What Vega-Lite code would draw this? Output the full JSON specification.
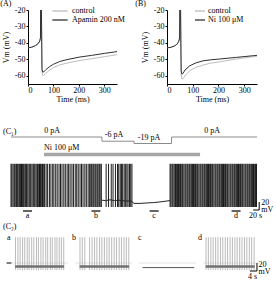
{
"$schema": "https://vega.github.io/schema/vega-lite/v6.json",
"padding": {"left": 0, "top": 0, "right": 0, "bottom": 0},
"background": "white",
"spacing": 24,
"config": {
  "view": {"stroke": null},
  "font": "Liberation Serif",
  "title": {"font": "Liberation Serif", "fontSize": 8, "fontWeight": "normal", "anchor": "start", "color": "black", "offset": 2},
  "axis": {"labelFont": "Liberation Serif", "titleFont": "Liberation Serif", "labelFontSize": 8, "titleFontSize": 8, "titleFontWeight": "normal", "labelColor": "black", "titleColor": "black", "domainColor": "black", "tickColor": "black", "tickSize": 2, "grid": false, "labelPadding": 1, "labelExpr": "replace(datum.label, '−', '-')"},
  "legend": {"labelFont": "Liberation Serif", "labelFontSize": 8, "labelColor": "black"},
  "text": {"font": "Liberation Serif", "fontSize": 8, "color": "black"}
},
"datasets": {
  "A": [
    {"t":0,"v":-43,"s":"control"},{"t":15,"v":-42.6,"s":"control"},{"t":30,"v":-41.6,"s":"control"},{"t":40,"v":-40.4,"s":"control"},{"t":46,"v":-39,"s":"control"},{"t":49,"v":-37,"s":"control"},{"t":51,"v":10,"s":"control"},{"t":55,"v":-57.5,"s":"control"},{"t":58,"v":-59.8,"s":"control"},{"t":62,"v":-59.8,"s":"control"},{"t":70,"v":-58.5,"s":"control"},{"t":85,"v":-56.6,"s":"control"},{"t":100,"v":-55,"s":"control"},{"t":125,"v":-53.4,"s":"control"},{"t":150,"v":-52.4,"s":"control"},{"t":200,"v":-50.8,"s":"control"},{"t":250,"v":-49.6,"s":"control"},{"t":300,"v":-48.4,"s":"control"},{"t":350,"v":-47.2,"s":"control"},
    {"t":0,"v":-43,"s":"Apamin 200 nM"},{"t":15,"v":-42.6,"s":"Apamin 200 nM"},{"t":30,"v":-41.6,"s":"Apamin 200 nM"},{"t":40,"v":-40.4,"s":"Apamin 200 nM"},{"t":46,"v":-39,"s":"Apamin 200 nM"},{"t":49,"v":-37,"s":"Apamin 200 nM"},{"t":51,"v":10,"s":"Apamin 200 nM"},{"t":55,"v":-56,"s":"Apamin 200 nM"},{"t":58,"v":-57.8,"s":"Apamin 200 nM"},{"t":62,"v":-57.6,"s":"Apamin 200 nM"},{"t":70,"v":-56.3,"s":"Apamin 200 nM"},{"t":85,"v":-54.4,"s":"Apamin 200 nM"},{"t":100,"v":-53,"s":"Apamin 200 nM"},{"t":125,"v":-51.3,"s":"Apamin 200 nM"},{"t":150,"v":-50.3,"s":"Apamin 200 nM"},{"t":200,"v":-48.7,"s":"Apamin 200 nM"},{"t":250,"v":-47.6,"s":"Apamin 200 nM"},{"t":300,"v":-46.4,"s":"Apamin 200 nM"},{"t":350,"v":-45.3,"s":"Apamin 200 nM"}
  ],
  "B": [
    {"t":0,"v":-43,"s":"control"},{"t":15,"v":-42.7,"s":"control"},{"t":30,"v":-41.8,"s":"control"},{"t":40,"v":-40.6,"s":"control"},{"t":46,"v":-39,"s":"control"},{"t":49,"v":-37,"s":"control"},{"t":51,"v":10,"s":"control"},{"t":55,"v":-59,"s":"control"},{"t":58,"v":-62,"s":"control"},{"t":62,"v":-61.8,"s":"control"},{"t":70,"v":-60,"s":"control"},{"t":88,"v":-57,"s":"control"},{"t":110,"v":-55,"s":"control"},{"t":140,"v":-53.5,"s":"control"},{"t":170,"v":-52.3,"s":"control"},{"t":205,"v":-51.5,"s":"control"},{"t":270,"v":-49.8,"s":"control"},{"t":335,"v":-48.4,"s":"control"},{"t":350,"v":-48.1,"s":"control"},
    {"t":0,"v":-43,"s":"Ni 100 μM"},{"t":15,"v":-42.7,"s":"Ni 100 μM"},{"t":30,"v":-41.8,"s":"Ni 100 μM"},{"t":40,"v":-40.6,"s":"Ni 100 μM"},{"t":46,"v":-39,"s":"Ni 100 μM"},{"t":49,"v":-37,"s":"Ni 100 μM"},{"t":51,"v":10,"s":"Ni 100 μM"},{"t":55,"v":-57,"s":"Ni 100 μM"},{"t":58,"v":-59,"s":"Ni 100 μM"},{"t":62,"v":-58.6,"s":"Ni 100 μM"},{"t":70,"v":-56.5,"s":"Ni 100 μM"},{"t":88,"v":-54,"s":"Ni 100 μM"},{"t":110,"v":-52.3,"s":"Ni 100 μM"},{"t":140,"v":-50.9,"s":"Ni 100 μM"},{"t":170,"v":-50.3,"s":"Ni 100 μM"},{"t":205,"v":-49.8,"s":"Ni 100 μM"},{"t":270,"v":-48.8,"s":"Ni 100 μM"},{"t":335,"v":-47.8,"s":"Ni 100 μM"},{"t":350,"v":-47.6,"s":"Ni 100 μM"}
  ],
  "cmd": [{"t":0,"I":0},{"t":303,"I":-6},{"t":410,"I":-19},{"t":535,"I":0},{"t":820,"I":0}],
  "cmdlab": [{"t":137,"I":0,"label":"0 pA"},{"t":343,"I":-6,"label":"-6 pA"},{"t":460,"I":-19,"label":"-19 pA"},{"t":670,"I":0,"label":"0 pA"}],
  "ni": [{"t0":110,"t1":630,"label":"Ni 100 μM"}],
  "c1spk": [
    {"t":0},{"t":3},{"t":7},{"t":11},{"t":14},{"t":18},{"t":21},{"t":24},{"t":28},{"t":32},{"t":35},{"t":38},{"t":42},{"t":46},{"t":49},{"t":52},{"t":56},{"t":60},{"t":63},{"t":66},{"t":70},{"t":74},{"t":77},{"t":80},{"t":84},{"t":88},{"t":91},{"t":95},{"t":98},{"t":101},{"t":105},{"t":109},{"t":112},
    {"t":117},{"t":122},{"t":128},{"t":133},{"t":139},{"t":143},{"t":149},{"t":154},{"t":160},{"t":165},{"t":170},{"t":176},{"t":181},{"t":187},{"t":192},{"t":197},{"t":203},{"t":208},{"t":214},{"t":219},{"t":224},{"t":230},{"t":235},{"t":240},{"t":246},{"t":251},{"t":257},{"t":262},
    {"t":266},{"t":269},{"t":273},{"t":276},{"t":280},{"t":283},{"t":287},{"t":290},{"t":294},{"t":297},{"t":301},
    {"t":317},{"t":325},{"t":334},{"t":340},{"t":348},
    {"t":355},{"t":359},{"t":364},{"t":368},{"t":372},{"t":377},{"t":381},{"t":386},{"t":390},{"t":395},{"t":399},{"t":403},
    {"t":530},{"t":533},{"t":537},{"t":540},{"t":544},{"t":548},{"t":551},{"t":555},{"t":558},{"t":562},{"t":565},{"t":569},{"t":572},{"t":576},{"t":580},{"t":583},{"t":587},{"t":590},{"t":594},{"t":597},{"t":601},{"t":605},{"t":608},{"t":612},{"t":615},{"t":619},{"t":622},{"t":626},{"t":630},{"t":633},{"t":637},{"t":640},{"t":644},{"t":647},{"t":651},{"t":655},{"t":658},{"t":662},{"t":665},{"t":669},{"t":672},{"t":676},{"t":680},{"t":683},{"t":687},{"t":690},{"t":694},{"t":697},{"t":701},{"t":705},{"t":708},{"t":712},{"t":715},{"t":719},{"t":722},{"t":726},{"t":730},{"t":733},{"t":737},{"t":740},{"t":744},{"t":747},{"t":751},{"t":755},{"t":758},{"t":762},{"t":765},{"t":769},{"t":772},{"t":776},{"t":780},{"t":783},{"t":787},{"t":790},{"t":794},{"t":797},{"t":801},{"t":805},{"t":808},{"t":812},{"t":815},{"t":818}
  ],
  "c1base": [{"t":303,"v":-58},{"t":315,"v":-59},{"t":330,"v":-57},{"t":345,"v":-59},{"t":360,"v":-58},{"t":380,"v":-60},{"t":400,"v":-60},{"t":410,"v":-66},{"t":430,"v":-66},{"t":450,"v":-65},{"t":475,"v":-64},{"t":500,"v":-62},{"t":520,"v":-60},{"t":530,"v":-59}],
  "seg": [{"label":"a","t0":40,"t1":70},{"label":"b","t0":268,"t1":298},{"label":"c","t0":462,"t1":492},{"label":"d","t0":735,"t1":765}],
  "c2spk": [
    {"seg":"a","t":0.5},{"seg":"a","t":1.9},{"seg":"a","t":3.1},{"seg":"a","t":4.5},{"seg":"a","t":5.7},{"seg":"a","t":7.1},{"seg":"a","t":8.2},{"seg":"a","t":9.6},{"seg":"a","t":10.8},{"seg":"a","t":12.3},{"seg":"a","t":13.4},{"seg":"a","t":14.8},{"seg":"a","t":16.0},{"seg":"a","t":17.5},{"seg":"a","t":18.6},{"seg":"a","t":20.1},{"seg":"a","t":21.2},{"seg":"a","t":22.7},{"seg":"a","t":23.8},{"seg":"a","t":25.1},{"seg":"a","t":26.3},{"seg":"a","t":27.6},
    {"seg":"b","t":0.8},{"seg":"b","t":2.1},{"seg":"b","t":3.5},{"seg":"b","t":6.2},{"seg":"b","t":7.6},{"seg":"b","t":9.0},{"seg":"b","t":10.3},{"seg":"b","t":11.8},{"seg":"b","t":13.1},{"seg":"b","t":14.5},{"seg":"b","t":15.9},{"seg":"b","t":17.2},{"seg":"b","t":18.6},{"seg":"b","t":20.0},{"seg":"b","t":21.3},{"seg":"b","t":22.8},{"seg":"b","t":24.1},{"seg":"b","t":25.5},{"seg":"b","t":26.8},{"seg":"b","t":28.2},
    {"seg":"d","t":-0.3},{"seg":"d","t":1.0},{"seg":"d","t":2.4},{"seg":"d","t":3.7},{"seg":"d","t":5.1},{"seg":"d","t":6.4},{"seg":"d","t":7.8},{"seg":"d","t":9.1},{"seg":"d","t":10.5},{"seg":"d","t":11.8},{"seg":"d","t":13.2},{"seg":"d","t":14.5},{"seg":"d","t":15.9},{"seg":"d","t":17.2},{"seg":"d","t":18.6},{"seg":"d","t":19.9},{"seg":"d","t":21.3},{"seg":"d","t":22.6},{"seg":"d","t":24.0},{"seg":"d","t":25.3},{"seg":"d","t":26.7}
  ],
  "c2base": [{"seg":"a","t0":0.3,"t1":27.8,"v":-61},{"seg":"b","t0":0.6,"t1":28.4,"v":-61},{"seg":"c","t0":0,"t1":29,"v":-64},{"seg":"d","t0":-0.5,"t1":27,"v":-61}]
},
"vconcat": [
  {"hconcat": [
    {"width": 17, "height": 74, "data": {"values": []}, "mark": "point"},
    {"width": 89, "height": 74,
     "title": {"text": "(A)", "frame": "bounds", "offset": -2, "dx": -2},
     "data": {"name": "A"},
     "mark": {"type": "line", "strokeWidth": 1, "clip": true},
     "encoding": {
       "x": {"field": "t", "type": "quantitative", "scale": {"domain": [0, 350], "nice": false}, "axis": {"values": [0,100,200,300], "title": "Time (ms)", "labelPadding": 0, "titlePadding": 1}},
       "y": {"field": "v", "type": "quantitative", "scale": {"domain": [-65, -20], "nice": false, "zero": false}, "axis": {"values": [-20,-30,-40,-50,-60], "title": "Vm (mV)", "titlePadding": 4}},
       "color": {"field": "s", "type": "nominal", "sort": null, "scale": {"domain": ["control", "Apamin 200 nM"], "range": ["#bdbdbd", "#303030"]},
                 "legend": {"orient": "none", "legendX": 27, "legendY": -4, "title": null, "symbolType": "M-1.9,0H1.9", "symbolSize": 64, "symbolStrokeWidth": 1.3, "rowPadding": -3, "labelOffset": 7}}
     }},
    {"width": 50, "height": 74, "data": {"values": []}, "mark": "point"},
    {"width": 90, "height": 74,
     "title": {"text": "(B)", "frame": "bounds", "offset": -2, "dx": -6},
     "data": {"name": "B"},
     "mark": {"type": "line", "strokeWidth": 1, "clip": true},
     "encoding": {
       "x": {"field": "t", "type": "quantitative", "scale": {"domain": [0, 350], "nice": false}, "axis": {"values": [0,100,200,300], "title": "Time (ms)", "labelPadding": 0, "titlePadding": 1}},
       "y": {"field": "v", "type": "quantitative", "scale": {"domain": [-65, -20], "nice": false, "zero": false}, "axis": {"values": [-20,-30,-40,-50,-60], "title": "Vm (mV)", "titlePadding": 4}},
       "color": {"field": "s", "type": "nominal", "sort": null, "scale": {"domain": ["control", "Ni 100 μM"], "range": ["#bdbdbd", "#303030"]},
                 "legend": {"orient": "none", "legendX": 28, "legendY": -4, "title": null, "symbolType": "M-1.25,0H1.25", "symbolSize": 64, "symbolStrokeWidth": 1.3, "rowPadding": -3, "labelOffset": 3}}
     }}
  ], "spacing": 0, "bounds": "flush", "resolve": {"scale": {"color": "independent"}}},
  {"vconcat": [
    {"width": 250, "height": 12,
     "title": {"text": "(C₁)", "dx": -8, "offset": -9, "frame": "group"},
     "layer": [
       {"data": {"name": "cmd"}, "mark": {"type": "line", "interpolate": "step-after", "color": "#8c8c8c", "strokeWidth": 1},
        "encoding": {"x": {"field": "t", "type": "quantitative", "scale": {"domain": [0, 833], "nice": false}, "axis": null},
                     "y": {"field": "I", "type": "quantitative", "scale": {"type": "symlog", "domain": [-62, 3], "nice": false, "zero": false}, "axis": null}}},
       {"data": {"name": "cmdlab"}, "mark": {"type": "text", "baseline": "alphabetic", "dy": -4},
        "encoding": {"x": {"field": "t", "type": "quantitative"}, "y": {"field": "I", "type": "quantitative"}, "text": {"field": "label"}}}
     ]},
    {"width": 250, "height": 17,
     "data": {"name": "ni"},
     "layer": [
       {"mark": {"type": "rule", "color": "#a6a6a6", "strokeWidth": 3.5},
        "encoding": {"x": {"field": "t0", "type": "quantitative", "scale": {"domain": [0, 833], "nice": false}, "axis": null}, "x2": {"field": "t1"}}},
       {"mark": {"type": "text", "align": "left", "baseline": "alphabetic", "dy": -5},
        "encoding": {"x": {"field": "t0", "type": "quantitative"}, "text": {"field": "label"}}}
     ]},
    {"width": 250, "height": 44,
     "layer": [
       {"data": {"name": "c1spk"}, "mark": {"type": "rule", "color": "#000000", "strokeWidth": 0.9},
        "encoding": {"x": {"field": "t", "type": "quantitative", "scale": {"domain": [0, 833], "nice": false}, "axis": null},
                     "y": {"datum": 33, "type": "quantitative", "scale": {"domain": [-75, 35], "nice": false, "zero": false}, "axis": null},
                     "y2": {"datum": -75}}},
       {"data": {"name": "c1base"}, "mark": {"type": "line", "color": "#222222", "strokeWidth": 1},
        "encoding": {"x": {"field": "t", "type": "quantitative"}, "y": {"field": "v", "type": "quantitative"}}},
       {"data": {"values": [{}]}, "mark": {"type": "rule", "color": "black", "strokeWidth": 1},
        "encoding": {"x": {"datum": 827, "type": "quantitative"}, "y": {"datum": -82.5, "type": "quantitative"}, "y2": {"datum": -62.5}}},
       {"data": {"values": [{}]}, "mark": {"type": "rule", "color": "black", "strokeWidth": 1},
        "encoding": {"x": {"datum": 807, "type": "quantitative"}, "x2": {"datum": 827}, "y": {"datum": -82.5, "type": "quantitative"}}},
       {"data": {"values": [{}]}, "mark": {"type": "text", "align": "left", "baseline": "middle", "dx": 2, "lineBreak": "\n", "lineHeight": 7},
        "encoding": {"x": {"datum": 827, "type": "quantitative"}, "y": {"datum": -65, "type": "quantitative"}, "text": {"value": "20\nmV"}}},
       {"data": {"values": [{}]}, "mark": {"type": "text", "align": "center", "baseline": "top", "dy": 2},
        "encoding": {"x": {"datum": 815, "type": "quantitative"}, "y": {"datum": -82.5, "type": "quantitative"}, "text": {"value": "20 s"}}}
     ]},
    {"width": 250, "height": 8,
     "data": {"name": "seg"},
     "layer": [
       {"mark": {"type": "rule", "color": "black", "strokeWidth": 1.2},
        "encoding": {"x": {"field": "t0", "type": "quantitative", "scale": {"domain": [0, 833], "nice": false}, "axis": null}, "x2": {"field": "t1"}}},
       {"mark": {"type": "text", "align": "center", "baseline": "alphabetic", "dy": 6.5, "dx": 4.5},
        "encoding": {"x": {"field": "t0", "type": "quantitative"}, "text": {"field": "label"}}}
     ]},
    {"width": 1, "height": 19, "data": {"values": []}, "mark": "point"},
    {"hconcat": [
      {"width": 57, "height": 40,
       "layer": [
         {"data": {"values": [{}]}, "mark": {"type": "rule", "color": "#dadada", "strokeWidth": 0.8},
          "encoding": {"y": {"datum": -52.5, "type": "quantitative", "scale": {"domain": [-80, 20], "nice": false, "zero": false}, "axis": null}}},
         {"data": {"name": "c2spk"}, "transform": [{"filter": "datum.seg === 'a'"}], "mark": {"type": "rule", "color": "#a8a8a8", "strokeWidth": 0.8},
          "encoding": {"x": {"field": "t", "type": "quantitative", "scale": {"domain": [-2, 30], "nice": false}, "axis": null}, "y": {"datum": 12, "type": "quantitative"}, "y2": {"datum": -70}}},
         {"data": {"name": "c2base"}, "transform": [{"filter": "datum.seg === 'a'"}], "mark": {"type": "rule", "color": "#707070", "strokeWidth": 2.5},
          "encoding": {"x": {"field": "t0", "type": "quantitative"}, "x2": {"field": "t1"}, "y": {"field": "v", "type": "quantitative"}}},
         {"data": {"values": [{}]}, "mark": {"type": "rule", "color": "black", "strokeWidth": 1},
          "encoding": {"x": {"datum": -4.5, "type": "quantitative"}, "x2": {"datum": -1.8}, "y": {"datum": -52.5, "type": "quantitative"}}},
         {"data": {"values": [{}]}, "mark": {"type": "text", "align": "left", "baseline": "middle"},
          "encoding": {"x": {"datum": -4.3, "type": "quantitative"}, "y": {"datum": 9, "type": "quantitative"}, "text": {"value": "a"}}},
         {"data": {"values": [{}]}, "mark": {"type": "text", "align": "left", "baseline": "middle"},
          "encoding": {"x": {"datum": -6.5, "type": "quantitative"}, "y": {"datum": 37.5, "type": "quantitative"}, "text": {"value": "(C₂)"}}}
       ]},
      {"width": 57, "height": 40,
       "layer": [
         {"data": {"values": [{}]}, "mark": {"type": "rule", "color": "#dadada", "strokeWidth": 0.8},
          "encoding": {"y": {"datum": -52.5, "type": "quantitative", "scale": {"domain": [-80, 20], "nice": false, "zero": false}, "axis": null}}},
         {"data": {"name": "c2spk"}, "transform": [{"filter": "datum.seg === 'b'"}], "mark": {"type": "rule", "color": "#a8a8a8", "strokeWidth": 0.8},
          "encoding": {"x": {"field": "t", "type": "quantitative", "scale": {"domain": [-2, 30], "nice": false}, "axis": null}, "y": {"datum": 12, "type": "quantitative"}, "y2": {"datum": -70}}},
         {"data": {"name": "c2base"}, "transform": [{"filter": "datum.seg === 'b'"}], "mark": {"type": "rule", "color": "#707070", "strokeWidth": 2.5},
          "encoding": {"x": {"field": "t0", "type": "quantitative"}, "x2": {"field": "t1"}, "y": {"field": "v", "type": "quantitative"}}},
         {"data": {"values": [{}]}, "mark": {"type": "text", "align": "left", "baseline": "middle"},
          "encoding": {"x": {"datum": -3.7, "type": "quantitative"}, "y": {"datum": 9, "type": "quantitative"}, "text": {"value": "b"}}}
       ]},
      {"width": 57, "height": 40,
       "layer": [
         {"data": {"values": [{}]}, "mark": {"type": "rule", "color": "#dadada", "strokeWidth": 0.8},
          "encoding": {"y": {"datum": -52.5, "type": "quantitative", "scale": {"domain": [-80, 20], "nice": false, "zero": false}, "axis": null}}},
         {"data": {"name": "c2base"}, "transform": [{"filter": "datum.seg === 'c'"}], "mark": {"type": "rule", "color": "#555555", "strokeWidth": 1},
          "encoding": {"x": {"field": "t0", "type": "quantitative", "scale": {"domain": [-2, 30], "nice": false}, "axis": null}, "x2": {"field": "t1"}, "y": {"field": "v", "type": "quantitative"}}},
         {"data": {"values": [{}]}, "mark": {"type": "text", "align": "left", "baseline": "middle"},
          "encoding": {"x": {"datum": -2.6, "type": "quantitative"}, "y": {"datum": 9, "type": "quantitative"}, "text": {"value": "c"}}}
       ]},
      {"width": 57, "height": 40,
       "layer": [
         {"data": {"values": [{}]}, "mark": {"type": "rule", "color": "#dadada", "strokeWidth": 0.8},
          "encoding": {"y": {"datum": -52.5, "type": "quantitative", "scale": {"domain": [-80, 20], "nice": false, "zero": false}, "axis": null}}},
         {"data": {"name": "c2spk"}, "transform": [{"filter": "datum.seg === 'd'"}], "mark": {"type": "rule", "color": "#a8a8a8", "strokeWidth": 0.8},
          "encoding": {"x": {"field": "t", "type": "quantitative", "scale": {"domain": [-2, 30], "nice": false}, "axis": null}, "y": {"datum": 12, "type": "quantitative"}, "y2": {"datum": -70}}},
         {"data": {"name": "c2base"}, "transform": [{"filter": "datum.seg === 'd'"}], "mark": {"type": "rule", "color": "#707070", "strokeWidth": 2.5},
          "encoding": {"x": {"field": "t0", "type": "quantitative"}, "x2": {"field": "t1"}, "y": {"field": "v", "type": "quantitative"}}},
         {"data": {"values": [{}]}, "mark": {"type": "text", "align": "left", "baseline": "middle"},
          "encoding": {"x": {"datum": -4.8, "type": "quantitative"}, "y": {"datum": 9, "type": "quantitative"}, "text": {"value": "d"}}},
         {"data": {"values": [{}]}, "mark": {"type": "rule", "color": "black", "strokeWidth": 1},
          "encoding": {"x": {"datum": 28.3, "type": "quantitative"}, "y": {"datum": -72.5, "type": "quantitative"}, "y2": {"datum": -52.5}}},
         {"data": {"values": [{}]}, "mark": {"type": "rule", "color": "black", "strokeWidth": 1},
          "encoding": {"x": {"datum": 24.3, "type": "quantitative"}, "x2": {"datum": 28.3}, "y": {"datum": -72.5, "type": "quantitative"}}},
         {"data": {"values": [{}]}, "mark": {"type": "text", "align": "left", "baseline": "middle", "dx": 1.5, "lineBreak": "\n", "lineHeight": 7},
          "encoding": {"x": {"datum": 28.3, "type": "quantitative"}, "y": {"datum": -57, "type": "quantitative"}, "text": {"value": "20\nmV"}}},
         {"data": {"values": [{}]}, "mark": {"type": "text", "align": "center", "baseline": "top", "dy": 2},
          "encoding": {"x": {"datum": 25.8, "type": "quantitative"}, "y": {"datum": -72.5, "type": "quantitative"}, "text": {"value": "4 s"}}}
       ]}
    ], "spacing": 7, "bounds": "flush"}
  ], "spacing": 0, "bounds": "flush"}
]
}
